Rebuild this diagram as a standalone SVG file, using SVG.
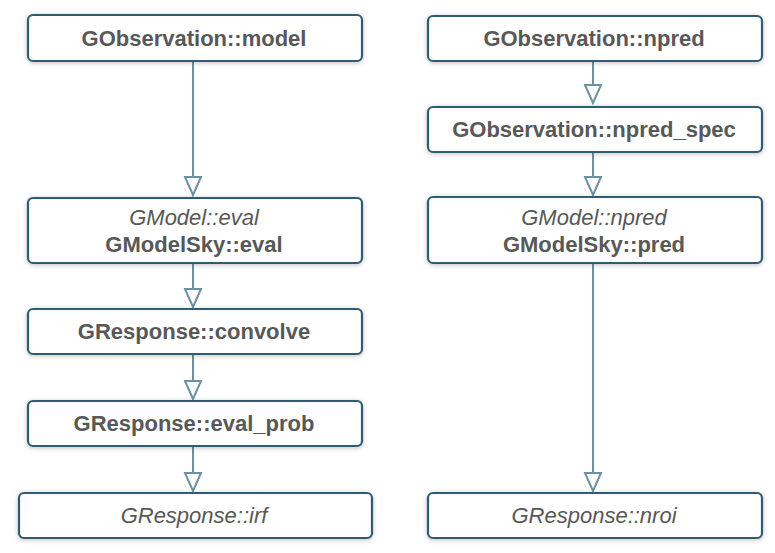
<svg xmlns="http://www.w3.org/2000/svg" width="775" height="553" viewBox="0 0 775 553">
<style>
.box{fill:#fff;stroke:#2f5d72;stroke-width:2.2;filter:url(#sh)}
.t{font-family:"Liberation Sans",Arial,sans-serif;font-size:22px;fill:#585858;text-anchor:middle}
.b{font-weight:bold}
.i{font-style:italic}
.c{stroke:#6b91a3;stroke-width:2;fill:none}
.ah{fill:#fff;stroke:#6b91a3;stroke-width:2;stroke-linejoin:miter}
</style>
<defs>
<filter id="sh" x="-10%" y="-30%" width="120%" height="160%">
<feGaussianBlur in="SourceAlpha" stdDeviation="2.5"/>
<feOffset dx="0" dy="1" result="b"/>
<feComponentTransfer><feFuncA type="linear" slope="0.25"/></feComponentTransfer>
<feMerge><feMergeNode/><feMergeNode in="SourceGraphic"/></feMerge>
</filter>
</defs>
<g id="connectors">
<path class="c" d="M193 61V177"/><path class="ah" d="M185 177H201L193 195Z"/>
<path class="c" d="M193 263V289"/><path class="ah" d="M185 289H201L193 307Z"/>
<path class="c" d="M193 354V381"/><path class="ah" d="M185 381H201L193 399Z"/>
<path class="c" d="M193 446V473"/><path class="ah" d="M185 473H201L193 491Z"/>
<path class="c" d="M593 61V85"/><path class="ah" d="M585 85H601L593 103Z"/>
<path class="c" d="M593 152V177"/><path class="ah" d="M585 177H601L593 195Z"/>
<path class="c" d="M593 263V473"/><path class="ah" d="M585 473H601L593 491Z"/>
</g>
<g id="n1"><rect class="box" x="28" y="15" width="334" height="46" rx="5"/><text class="t b" x="194" y="46">GObservation::model</text></g>
<g id="n2"><rect class="box" x="28" y="198" width="334" height="65" rx="5"/><text class="t i" x="194" y="225">GModel::eval</text><text class="t b" x="194" y="252">GModelSky::eval</text></g>
<g id="n3"><rect class="box" x="28" y="309" width="334" height="45" rx="5"/><text class="t b" x="194" y="339">GResponse::convolve</text></g>
<g id="n4"><rect class="box" x="28" y="401" width="334" height="45" rx="5"/><text class="t b" x="194" y="431">GResponse::eval_prob</text></g>
<g id="n5"><rect class="box" x="19" y="493" width="353" height="45" rx="5"/><text class="t i" x="194" y="523">GResponse::irf</text></g>
<g id="n6"><rect class="box" x="428" y="16" width="334" height="45" rx="5"/><text class="t b" x="594" y="46">GObservation::npred</text></g>
<g id="n7"><rect class="box" x="428" y="107" width="334" height="45" rx="5"/><text class="t b" x="594" y="137">GObservation::npred_spec</text></g>
<g id="n8"><rect class="box" x="428" y="197" width="334" height="66" rx="5"/><text class="t i" x="594" y="225">GModel::npred</text><text class="t b" x="594" y="252">GModelSky::pred</text></g>
<g id="n9"><rect class="box" x="428" y="493" width="334" height="45" rx="5"/><text class="t i" x="594" y="523">GResponse::nroi</text></g>
</svg>
